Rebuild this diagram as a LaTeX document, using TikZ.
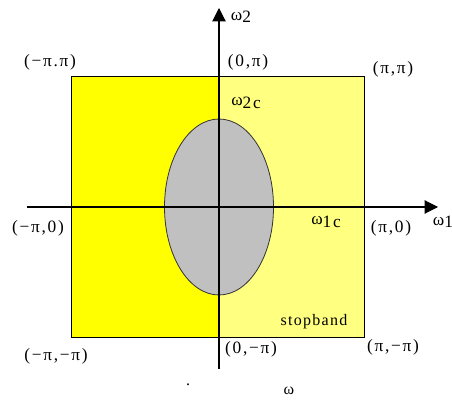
\documentclass[tikz,border=0pt]{standalone}
\usepackage{fontspec}
\setmainfont{Liberation Serif}
\usetikzlibrary{arrows.meta,shapes.geometric}
\definecolor{brightyellow}{HTML}{FFFF00}
\definecolor{paleyellow}{HTML}{FFFF80}
\definecolor{passgray}{HTML}{C0C0C0}
\tikzset{
  lbl/.style={inner sep=0pt, font=\fontsize{13}{15}\selectfont\addfontfeature{LetterSpace=10}},
  txt/.style={inner sep=0pt, font=\fontsize{12}{14}\selectfont\addfontfeature{LetterSpace=8}},
  axis/.style={line width=0.8pt, -{Triangle[width=10pt,length=10pt]}},
  frame/.style={draw=black, line width=0.7pt},
}
\begin{document}
\begin{tikzpicture}[x=0.75pt,y=-0.75pt]
\useasboundingbox (0,0) rectangle (452,402);
% regions
\fill[brightyellow] (71,76) rectangle (219,337);
\fill[paleyellow] (219,76) rectangle (364,337);
\draw[frame] (71,76) rectangle (364,337);
\node[ellipse, draw=black!80, line width=0.6pt, fill=passgray, minimum width=109*0.75pt, minimum height=176*0.75pt, inner sep=0pt] (pass) at (219,207) {};
% axes
\coordinate (ybot) at (219,369);
\coordinate (ytop) at (219,8);
\coordinate (xleft) at (27,207);
\coordinate (xright) at (438,207);
\draw[axis] (ybot) -- (ytop);
\draw[axis] (xleft) -- (xright);
% labels
\node[lbl] (w2) at (241,17) {ω\raisebox{-2pt}{2}};
\node[lbl] (w1) at (443,222) {ω\raisebox{-2pt}{1}};
\node[lbl] (mpp) at (50,62) {(−π.π)};
\node[lbl] (zp) at (248,62) {(0,π)};
\node[lbl] (pp) at (393,69) {(π,π)};
\node[lbl] (w2c) at (246,103) {ω\raisebox{-2pt}{2c}};
\node[lbl] (mp0) at (38,228) {(−π,0)};
\node[lbl] (w1c) at (326,222) {ω\raisebox{-2pt}{1c}};
\node[lbl] (p0) at (391,228) {(π,0)};
\node[txt] (stop) at (314,322) {stopband};
\node[lbl] (mpmp) at (56,356) {(−π,−π)};
\node[lbl] (zmp) at (251,349) {(0,−π)};
\node[lbl] (pmp) at (393,347) {(π,−π)};
\node[txt] (w) at (289,391) {ω};
\node[txt] (dot) at (188,385) {.};
\end{tikzpicture}
\end{document}
